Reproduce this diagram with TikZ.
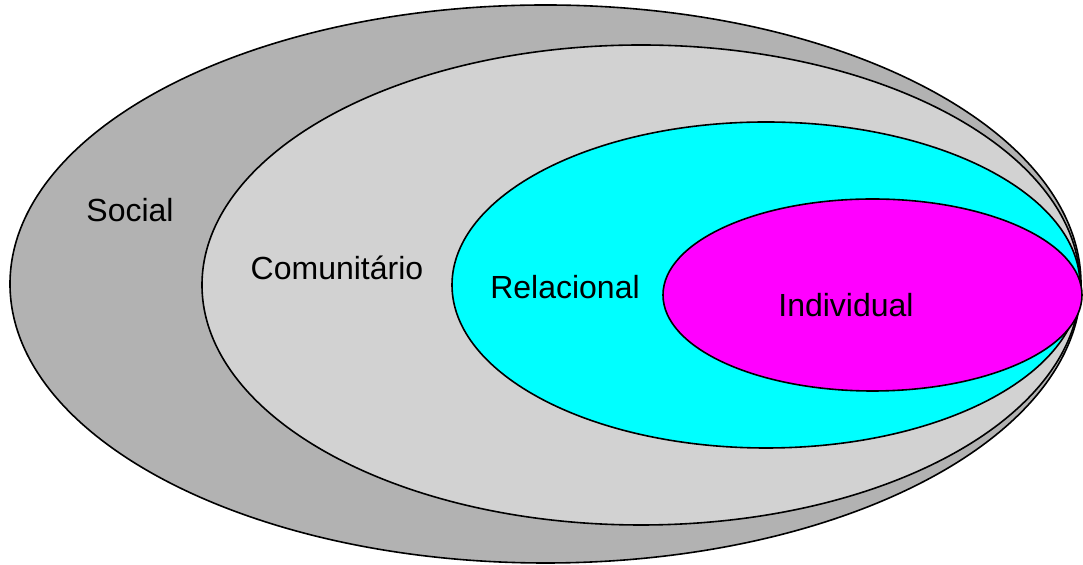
\documentclass[tikz,border=0pt]{standalone}
\usepackage{fontspec}
\setmainfont{Liberation Sans}
\usetikzlibrary{shapes.geometric}
\definecolor{socialgray}{RGB}{178,178,178}
\definecolor{comgray}{RGB}{210,210,210}
\definecolor{relcyan}{RGB}{0,255,255}
\definecolor{indmagenta}{RGB}{255,0,255}
\tikzset{
  level/.style={draw=black,line width=0.8pt,ellipse,inner sep=0pt,outer sep=0pt},
  lbl/.style={font=\fontsize{16}{19}\selectfont,inner sep=0pt}
}
\begin{document}
\begin{tikzpicture}[x=0.5pt,y=-0.5pt]
    \useasboundingbox (0,0) rectangle (1083,565);
    \node[level,fill=socialgray,minimum width=535.5pt,minimum height=279pt] (social) at (545.5,284) {};
    \node[level,fill=comgray,minimum width=439pt,minimum height=240pt] (comunitario) at (641,285) {};
    \node[level,fill=relcyan,minimum width=314pt,minimum height=163pt] (relacional) at (766,285) {};
    \node[level,fill=indmagenta,minimum width=209.5pt,minimum height=96pt] (individual) at (872.5,295) {};
    \node[lbl] (tsocial) at (130,210) {Social};
    \node[lbl] (tcomunitario) at (337,268) {Comunitário};
    \node[lbl] (trelacional) at (565,287) {Relacional};
    \node[lbl] (tindividual) at (846,305) {Individual};
  \end{tikzpicture}
\end{document}
